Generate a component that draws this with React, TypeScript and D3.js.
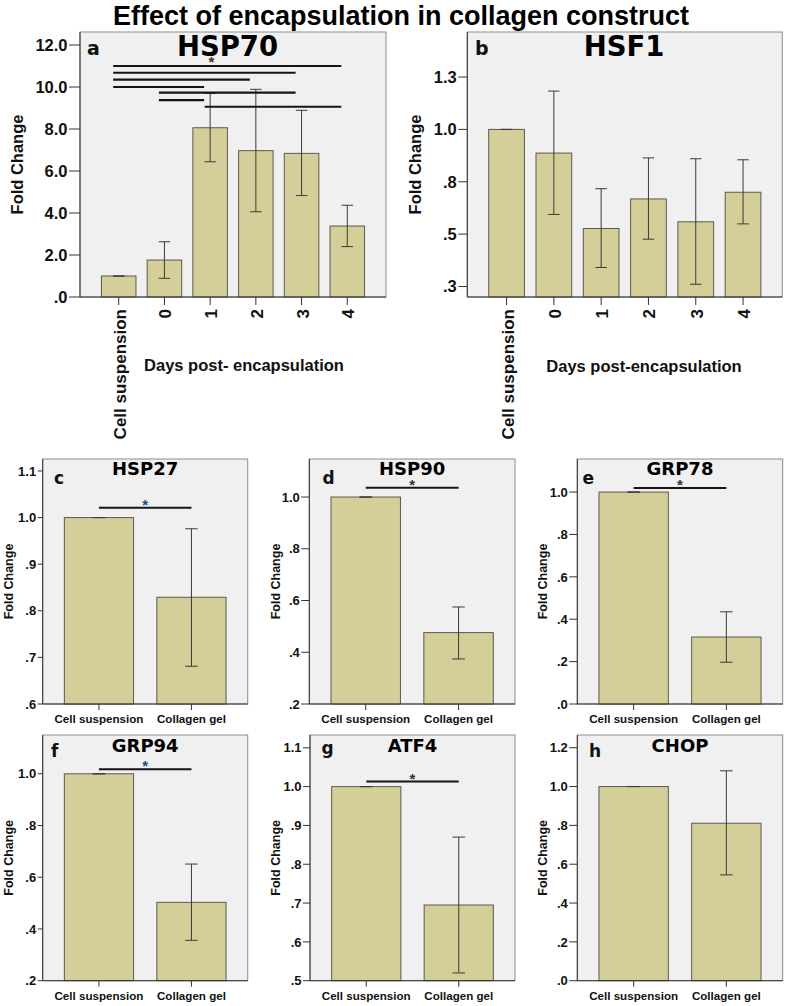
import React from "react";
import * as d3 from "d3";

// ---------- DATA ----------
const mainTitle = "Effect of encapsulation in collagen construct";

const dayCategories = ["Cell suspension", "0", "1", "2", "3", "4"];
const hsp70Mean = [1.0, 1.76, 8.06, 6.97, 6.84, 3.38];
const hsp70Upper = [1.0, 2.63, 9.7, 9.89, 8.89, 4.37];
const hsp70Lower = [1.0, 0.89, 6.44, 4.06, 4.83, 2.4];
const hsp70Ticks = [0, 2, 4, 6, 8, 10, 12];
const hsp70TickLabels = [".0", "2.0", "4.0", "6.0", "8.0", "10.0", "12.0"];
const hsp70SigFrom = [0, 0, 0, 0, 1, 1, 2];
const hsp70SigTo = [5, 4, 3, 2, 4, 2, 5];
const hsp70SigY = [11.0, 10.68, 10.35, 10.0, 9.73, 9.38, 9.06];

const hsf1Mean = [1.0, 0.887, 0.527, 0.668, 0.559, 0.7];
const hsf1Upper = [1.0, 1.183, 0.717, 0.864, 0.86, 0.855];
const hsf1Lower = [1.0, 0.594, 0.341, 0.476, 0.261, 0.549];
const hsf1Ticks = [0.25, 0.5, 0.75, 1.0, 1.25];
const hsf1TickLabels = [".3", ".5", ".8", "1.0", "1.3"];

const groupCategories = ["Cell suspension", "Collagen gel"];

const hsp27Mean = [1.0, 0.829];
const hsp27Upper = [1.0, 0.976];
const hsp27Lower = [1.0, 0.681];
const hsp27Ticks = [0.6, 0.7, 0.8, 0.9, 1.0, 1.1];
const hsp27TickLabels = [".6", ".7", ".8", ".9", "1.0", "1.1"];

const hsp90Mean = [1.0, 0.476];
const hsp90Upper = [1.0, 0.575];
const hsp90Lower = [1.0, 0.374];
const hsp90Ticks = [0.2, 0.4, 0.6, 0.8, 1.0];
const hsp90TickLabels = [".2", ".4", ".6", ".8", "1.0"];

const grp78Mean = [1.0, 0.316];
const grp78Upper = [1.0, 0.435];
const grp78Lower = [1.0, 0.197];
const grp78Ticks = [0, 0.2, 0.4, 0.6, 0.8, 1.0];
const grp78TickLabels = [".0", ".2", ".4", ".6", ".8", "1.0"];

const grp94Mean = [1.0, 0.503];
const grp94Upper = [1.0, 0.651];
const grp94Lower = [1.0, 0.356];
const grp94Ticks = [0.2, 0.4, 0.6, 0.8, 1.0];
const grp94TickLabels = [".2", ".4", ".6", ".8", "1.0"];

const atf4Mean = [1.0, 0.695];
const atf4Upper = [1.0, 0.87];
const atf4Lower = [1.0, 0.52];
const atf4Ticks = [0.5, 0.6, 0.7, 0.8, 0.9, 1.0, 1.1];
const atf4TickLabels = [".5", ".6", ".7", ".8", ".9", "1.0", "1.1"];

const chopMean = [1.0, 0.811];
const chopUpper = [1.0, 1.081];
const chopLower = [1.0, 0.545];
const chopTicks = [0, 0.2, 0.4, 0.6, 0.8, 1.0, 1.2];
const chopTickLabels = [".0", ".2", ".4", ".6", ".8", "1.0", "1.2"];

// ---------- STYLE ----------
const FONT = "'Liberation Sans', Arial, Helvetica, sans-serif";
const HEAVY = "'DejaVu Sans', Verdana, sans-serif";
const BAR_FILL = "#d4cf99";
const BAR_STROKE = "#5b5a4c";
const BG = "#f0f0f0";

type Cfg = {
  letter: string;
  title: string;
  big: boolean;
  cats: string[];
  mean: number[];
  upper: number[];
  lower: number[];
  ticks: number[];
  tickLabels: string[];
  domain: [number, number];
  frame: { x0: number; x1: number; y0: number; y1: number };
  inset: number;
  padIn: number;
  tickLen: number;
  titleX: number;
  titleY: number;
  letterX: number;
  letterY: number;
  ylabX: number;
  sig: { from: number; to: number; y: number }[];
  sigDx0: number;
  sigDx1: number;
  star?: { x: number; y: number; color: string; offset?: number };
  days?: { text: string; x: number; y: number };
};

function Panel({ c }: { c: Cfg }) {
  const { x0, x1, y0, y1 } = c.frame;
  const x = d3
    .scaleBand<string>()
    .domain(c.cats)
    .range([x0 + c.inset, x1 - c.inset])
    .paddingInner(c.padIn)
    .paddingOuter(c.padIn / 2);
  const y = d3.scaleLinear().domain(c.domain).range([y1, y0]);
  const bw = x.bandwidth();
  const cx = (cat: string) => (x(cat) as number) + bw / 2;
  const capW = c.big ? 11.5 : 12.5;
  const tickFs = c.big ? 16.5 : 13;
  const ylabFs = c.big ? 16.5 : 12.5;
  const titleFs = c.big ? 27.5 : 18;
  const letterFs = c.big ? 19 : 17;
  const sigW = c.big ? 2.2 : 2;

  return (
    <g>
      <rect x={x0} y={y0} width={x1 - x0} height={y1 - y0} fill={BG} stroke="#8e8e8e" strokeWidth={1} />
      {/* bars */}
      {c.cats.map((cat, i) => (
        <rect
          key={"b" + i}
          x={x(cat)}
          y={y(c.mean[i])}
          width={bw}
          height={y1 - y(c.mean[i])}
          fill={BAR_FILL}
          stroke={BAR_STROKE}
          strokeWidth={1}
        />
      ))}
      {/* error bars */}
      {c.cats.map((cat, i) => {
        const xc = cx(cat);
        return (
          <g key={"e" + i} stroke="#3a3a3a" strokeWidth={1}>
            <line x1={xc} x2={xc} y1={y(c.upper[i])} y2={y(c.lower[i])} />
            <line x1={xc - capW / 2} x2={xc + capW / 2} y1={y(c.upper[i])} y2={y(c.upper[i])} />
            <line x1={xc - capW / 2} x2={xc + capW / 2} y1={y(c.lower[i])} y2={y(c.lower[i])} />
          </g>
        );
      })}
      {/* axes */}
      <line x1={x0} x2={x0} y1={y0} y2={y1} stroke="#333" strokeWidth={1} />
      <line x1={x0} x2={x1} y1={y1} y2={y1} stroke="#333" strokeWidth={1} />
      {c.ticks.map((t, i) => (
        <g key={"t" + i}>
          <line x1={x0 - c.tickLen} x2={x0} y1={y(t)} y2={y(t)} stroke="#333" strokeWidth={1} />
          <text
            x={x0 - c.tickLen - 1.5}
            y={y(t)}
            dy="0.36em"
            textAnchor="end"
            fontFamily={FONT}
            fontWeight="bold"
            fontSize={tickFs}
            fill="#111"
          >
            {c.tickLabels[i]}
          </text>
        </g>
      ))}
      {c.cats.map((cat, i) => {
        const xc = cx(cat);
        return (
          <g key={"x" + i}>
            <line x1={xc} x2={xc} y1={y1} y2={y1 + (c.big ? 8 : 6)} stroke="#333" strokeWidth={1} />
            {c.big ? (
              <text
                transform={`translate(${xc + 7},${y1 + 12}) rotate(-90)`}
                textAnchor="end"
                fontFamily={FONT}
                fontWeight="bold"
                fontSize={17}
                fill="#111"
              >
                {cat}
              </text>
            ) : (
              <text
                x={xc}
                y={y1 + 19.3}
                textAnchor="middle"
                fontFamily={FONT}
                fontWeight="bold"
                fontSize={11.6}
                fill="#111"
              >
                {cat}
              </text>
            )}
          </g>
        );
      })}
      {/* y label */}
      <text
        transform={`translate(${c.ylabX + ylabFs * 0.36},${(y0 + y1) / 2}) rotate(-90)`}
        textAnchor="middle"
        fontFamily={FONT}
        fontWeight="bold"
        fontSize={ylabFs}
        fill="#111"
      >
        Fold Change
      </text>
      {/* significance */}
      {c.sig.map((s, i) => (
        <line
          key={"s" + i}
          x1={cx(c.cats[s.from]) + c.sigDx0}
          x2={cx(c.cats[s.to]) + c.sigDx1}
          y1={y(s.y)}
          y2={y(s.y)}
          stroke="#151515"
          strokeWidth={sigW}
        />
      ))}
      {/* title & letter */}
      <text x={c.titleX} y={c.titleY} textAnchor="middle" fontFamily={HEAVY} fontWeight="bold" fontSize={titleFs} fill="#000">
        {c.title}
      </text>
      {c.star && (
        <text
          x={c.star.x}
          y={c.star.y}
          textAnchor="middle"
          fontFamily={FONT}
          fontWeight="bold"
          fontSize={c.big ? 15 : 15}
          fill={c.star.color}
        >
          *
        </text>
      )}
      <text x={c.letterX} y={c.letterY} fontFamily={HEAVY} fontWeight="bold" fontSize={letterFs} fill="#111">
        {c.letter}
      </text>
      {c.days && (
        <text x={c.days.x} y={c.days.y} textAnchor="middle" fontFamily={FONT} fontWeight="bold" fontSize={16.5} fill="#111">
          {c.days.text}
        </text>
      )}
    </g>
  );
}

function smallCfg(
  letter: string,
  title: string,
  mean: number[],
  upper: number[],
  lower: number[],
  ticks: number[],
  tickLabels: string[],
  domain: [number, number],
  frame: { x0: number; x1: number; y0: number; y1: number },
  tickLen: number,
  letterX: number,
  letterY: number,
  ylabX: number,
  titleY: number,
  sigY: number | null,
  starColor: string
): Cfg {
  const cfg: Cfg = {
    letter,
    title,
    big: false,
    cats: groupCategories,
    mean,
    upper,
    lower,
    ticks,
    tickLabels,
    domain,
    frame,
    inset: 10,
    padIn: 0.252,
    tickLen,
    titleX: (frame.x0 + frame.x1) / 2,
    titleY,
    letterX,
    letterY,
    ylabX,
    sig: sigY === null ? [] : [{ from: 0, to: 1, y: sigY }],
    sigDx0: 0,
    sigDx1: 0,
  };
  if (sigY !== null) {
    const ys = d3.scaleLinear().domain(domain).range([frame.y1, frame.y0]);
    const xs = d3
      .scaleBand<string>()
      .domain(groupCategories)
      .range([frame.x0 + 10, frame.x1 - 10])
      .paddingInner(0.252)
      .paddingOuter(0.126);
    const mid = ((xs(groupCategories[0]) as number) + (xs(groupCategories[1]) as number) + xs.bandwidth()) / 2;
    cfg.star = { x: mid, y: ys(sigY) + 2, color: starColor };
  }
  return cfg;
}

export default function App() {
  const aFrame = { x0: 80, x1: 386, y0: 32, y1: 297 };
  const aY = d3.scaleLinear().domain([0, 12.62]).range([aFrame.y1, aFrame.y0]);
  const panelA: Cfg = {
    letter: "a",
    title: "HSP70",
    big: true,
    cats: dayCategories,
    mean: hsp70Mean,
    upper: hsp70Upper,
    lower: hsp70Lower,
    ticks: hsp70Ticks,
    tickLabels: hsp70TickLabels,
    domain: [0, 12.62],
    frame: aFrame,
    inset: 15.85,
    padIn: 0.245,
    tickLen: 11,
    titleX: 227.5,
    titleY: 56,
    letterX: 87,
    letterY: 55,
    ylabX: 16.7,
    sig: hsp70SigY.map((v, i) => ({ from: hsp70SigFrom[i], to: hsp70SigTo[i], y: v })),
    sigDx0: -5.5,
    sigDx1: -6,
    star: { x: 211.5, y: aY(11.38) + 8.5, color: "#3a2a1a" },
    days: { text: "Days post- encapsulation", x: 244, y: 371 },
  };
  const panelB: Cfg = {
    letter: "b",
    title: "HSF1",
    big: true,
    cats: dayCategories,
    mean: hsf1Mean,
    upper: hsf1Upper,
    lower: hsf1Lower,
    ticks: hsf1Ticks,
    tickLabels: hsf1TickLabels,
    domain: [0.2, 1.465],
    frame: { x0: 467.3, x1: 782.3, y0: 32, y1: 297 },
    inset: 15.6,
    padIn: 0.245,
    tickLen: 9,
    titleX: 624,
    titleY: 56,
    letterX: 475,
    letterY: 55,
    ylabX: 415,
    sig: [],
    sigDx0: 0,
    sigDx1: 0,
    days: { text: "Days post-encapsulation", x: 644, y: 372 },
  };

  const topRow = { y0: 459, y1: 704 };
  const botRow = { y0: 735, y1: 980.7 };
  const panels: Cfg[] = [
    panelA,
    panelB,
    smallCfg("c", "HSP27", hsp27Mean, hsp27Upper, hsp27Lower, hsp27Ticks, hsp27TickLabels, [0.6, 1.1257],
      { x0: 42.7, x1: 247.7, ...topRow }, 5, 54, 484, 8.3, 475.3, 1.021, "#27457e"),
    smallCfg("d", "HSP90", hsp90Mean, hsp90Upper, hsp90Lower, hsp90Ticks, hsp90TickLabels, [0.2, 1.147],
      { x0: 309.3, x1: 515, ...topRow }, 8, 322.5, 484, 275, 475.3, 1.036, "#333"),
    smallCfg("e", "GRP78", grp78Mean, grp78Upper, grp78Lower, grp78Ticks, grp78TickLabels, [0, 1.156],
      { x0: 577.3, x1: 782.7, ...topRow }, 8, 582.5, 484, 542.7, 475.3, 1.019, "#333"),
    smallCfg("f", "GRP94", grp94Mean, grp94Upper, grp94Lower, grp94Ticks, grp94TickLabels, [0.2, 1.15],
      { x0: 42.7, x1: 247.7, ...botRow }, 5, 51, 756.7, 8.3, 751.7, 1.018, "#27457e"),
    smallCfg("g", "ATF4", atf4Mean, atf4Upper, atf4Lower, atf4Ticks, atf4TickLabels, [0.5, 1.133],
      { x0: 310, x1: 515, ...botRow }, 7, 321.5, 754, 275, 751.7, 1.013, "#333"),
    smallCfg("h", "CHOP", chopMean, chopUpper, chopLower, chopTicks, chopTickLabels, [0, 1.2655],
      { x0: 577.3, x1: 782.7, ...botRow }, 8, 589, 756.7, 542.7, 751.7, null, "#333"),
  ];

  return (
    <svg
      width={787}
      height={1006}
      viewBox="0 0 787 1006"
      style={{ position: "absolute", left: 0, top: 0, background: "#fff" }}
    >
      <rect x={0} y={0} width={787} height={1006} fill="#fff" />
      <text x={401} y={25} textAnchor="middle" fontFamily={FONT} fontWeight="bold" fontSize={27} fill="#000">
        {mainTitle}
      </text>
      {panels.map((p, i) => (
        <Panel key={i} c={p} />
      ))}
    </svg>
  );
}
